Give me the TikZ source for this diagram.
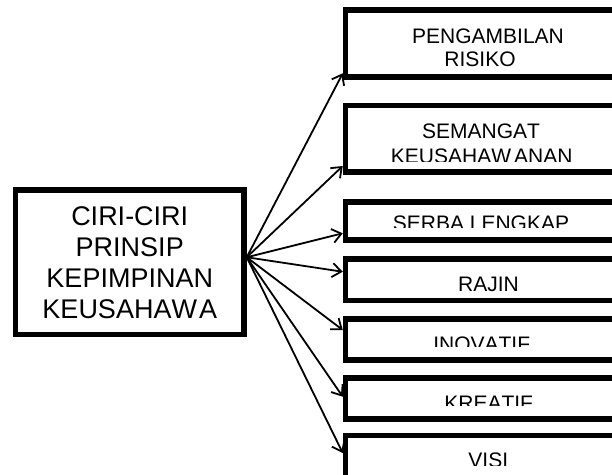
\documentclass[tikz,border=0pt]{standalone}
\usepackage{fontspec}
\setmainfont{Liberation Sans}[Kerning=Off]
\usetikzlibrary{arrows.meta,calc}
\begin{document}
\begin{tikzpicture}[x=1pt,y=-1pt,
  box/.style={draw=black,line width=5.5pt,rectangle,inner sep=0pt},
  hubtext/.style={font=\fontsize{27}{31}\selectfont,align=center},
  lbl/.style={anchor=base,font=\fontsize{21}{23}\selectfont,inner sep=0pt},
  arr/.style={line width=1.8pt,-{Straight Barb[length=9pt,width=14pt,line width=1.8pt]}}]
\useasboundingbox (0,0) rectangle (612,474);
\clip (0,0) rectangle (612,474);

% central box
\node[box,hubtext,minimum width=228.5pt,minimum height=144.5pt] (c) at (129.75,262.25)
  {CIRI-CIRI\\PRINSIP\\KEPIMPINAN\\KEUSAHAW\kern2ptA};

% right-hand boxes (run off the right edge)
\node[box,minimum width=294.5pt,minimum height=67pt]   (r1) at (492.75,43.5)   {};
\node[box,minimum width=294.5pt,minimum height=66.5pt] (r2) at (492.75,138.75) {};
\node[box,minimum width=294.5pt,minimum height=38pt]   (r3) at (492.75,221)    {};
\node[box,minimum width=294.5pt,minimum height=41.5pt] (r4) at (492.75,279.75) {};
\node[box,minimum width=294.5pt,minimum height=41pt]   (r5) at (492.75,339.5)  {};
\node[box,minimum width=294.5pt,minimum height=41pt]   (r6) at (492.75,398.5)  {};
\node[box,minimum width=294.5pt,minimum height=54.5pt] (r7) at (492.75,462.75) {};

% labels, cut off where the text frame ends
\node[lbl] (t1a) at (488,43.3) {PENGAMBILAN};
\node[lbl] (t1b) at (480,66) {RISIKO};
\node[lbl] (t2a) at (481,138) {SEMANGAT};
\begin{scope}
  \clip (r2.west |- 0,100) rectangle (r2.east |- 0,161.7);
  \node[lbl] (t2b) at (481.7,163.5) {KEUSAHAW\kern3ptANAN};
\end{scope}
\begin{scope}
  \clip (r3.west |- 0,200) rectangle (r3.east |- 0,227.7);
  \node[lbl] (t3) at (481,230.5) {SERBA LENGKAP};
\end{scope}
\node[lbl] (t4) at (488.5,291.5) {RAJIN};
\begin{scope}
  \clip (r5.west |- 0,315) rectangle (r5.east |- 0,346.7);
  \node[lbl] (t5) at (481.7,351) {INOVATIF};
\end{scope}
\begin{scope}
  \clip (r6.west |- 0,375) rectangle (r6.east |- 0,405);
  \node[lbl] (t6) at (488.7,410) {KREATIF};
\end{scope}
\begin{scope}
  \clip (r7.west |- 0,430) rectangle (r7.east |- 0,465.5);
  \node[lbl] (t7) at (488.3,467.5) {VISI};
\end{scope}

% connectors fanning out from the central box
\coordinate (hub) at ($(c.east)+(0,-5)$);
\draw[arr] (hub) -- ($(r1.west)+(0,29.8)$);
\draw[arr] (hub) -- ($(r2.west)+(0,27.25)$);
\draw[arr] (hub) -- ($(r3.west)+(0,12.3)$);
\draw[arr] (hub) -- ($(r4.west)+(0,-8)$);
\draw[arr] (hub) -- ($(r5.west)+(0,-9.5)$);
\draw[arr] (hub) -- ($(r6.west)+(0,-1.8)$);
\draw[arr] (hub) -- ($(r7.west)+(0,-9.75)$);
\end{tikzpicture}
\end{document}
